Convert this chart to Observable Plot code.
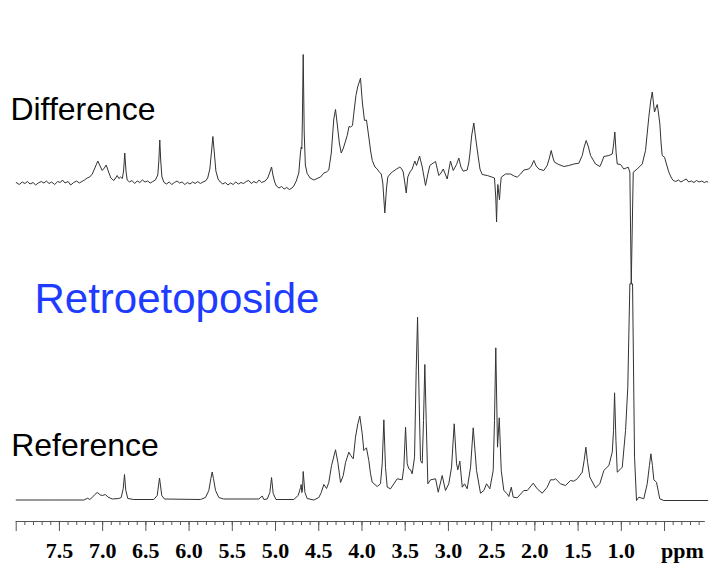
<!DOCTYPE html>
<html>
<head>
<meta charset="utf-8">
<script src="https://cdn.jsdelivr.net/npm/d3@7"></script>
<script src="https://cdn.jsdelivr.net/npm/@observablehq/plot@0.6"></script>
<style>
  html, body { margin: 0; padding: 0; background: #fff; }
  #chart svg { display: block; }
</style>
</head>
<body>
<div id="chart"></div>
<script>
// ---- Data ----
// Reference 1H NMR spectrum: [chemical shift (ppm), relative intensity]
const referenceSpectrum = [
  [8.000,0.5],[7.600,0.5],[7.218,0.5],[7.172,2.3],[7.150,1.0],[7.121,3.0],[7.090,6],[7.063,8],[7.025,5.5],[7.005,5],
  [6.967,6],[6.940,3.5],[6.889,1.5],[6.813,2],[6.785,3],[6.762,12],[6.747,26],[6.732,10],[6.709,2],[6.640,1],
  [6.408,1],[6.369,5],[6.342,22.5],[6.316,5],[6.285,1.5],[5.868,1],[5.810,3],[5.772,10],[5.748,22],[5.733,28.5],
  [5.718,22],[5.694,10],[5.656,3],[5.600,1.5],[5.193,1.5],[5.154,4.5],[5.135,1],[5.096,1.5],[5.066,8],[5.046,23],
  [5.027,7],[4.995,1],[4.789,1],[4.738,5],[4.711,13],[4.703,16],[4.696,8],[4.688,10],[4.680,29],[4.660,8],
  [4.634,2],[4.557,0.5],[4.499,3],[4.471,8],[4.441,16],[4.410,12],[4.384,18],[4.352,35],[4.306,50.7],[4.279,38],
  [4.248,18],[4.217,25],[4.190,38],[4.152,48.3],[4.130,45],[4.101,41.7],[4.075,63.3],[4.048,76.7],[4.025,84.3],[3.997,66.7],
  [3.979,50],[3.948,52.7],[3.921,40],[3.901,26.7],[3.882,18.3],[3.824,14],[3.786,16.7],[3.766,36.7],[3.747,80.7],[3.728,33],
  [3.708,13.3],[3.670,11.7],[3.592,21.7],[3.535,20.7],[3.516,33],[3.496,73.3],[3.477,36.7],[3.458,31.7],[3.438,30.7],[3.419,26.7],
  [3.392,43.3],[3.373,130],[3.357,183.3],[3.338,96.7],[3.323,40],[3.303,37.3],[3.288,80],[3.273,136],[3.257,80],[3.238,16.7],
  [3.207,20.7],[3.149,21.7],[3.118,8.3],[3.072,25],[3.034,10],[2.996,16.7],[2.964,33.3],[2.933,76.7],[2.906,36.7],[2.891,30.7],
  [2.868,39.3],[2.840,13.3],[2.814,16.7],[2.783,11.7],[2.744,33.3],[2.713,72.7],[2.675,30],[2.629,7.3],[2.590,10],[2.559,16.7],
  [2.521,11.7],[2.482,30],[2.467,80],[2.452,152.7],[2.432,53.3],[2.412,82.7],[2.389,30],[2.359,10],[2.320,6.7],[2.301,4],
  [2.273,13.3],[2.250,3.3],[2.204,2.7],[2.128,10],[2.088,10],[2.019,17.3],[1.973,11.7],[1.915,7.3],[1.857,13.3],[1.819,20.7],
  [1.781,20.7],[1.761,21.7],[1.703,16.7],[1.645,15],[1.588,20],[1.549,19.3],[1.510,21.7],[1.452,28.3],[1.430,40],[1.410,53.3],
  [1.390,38],[1.364,23.3],[1.298,12.7],[1.249,16.7],[1.202,30],[1.144,35],[1.105,48.3],[1.090,70],[1.078,107.7],[1.062,60],
  [1.047,28.3],[1.017,30.7],[0.989,33.3],[0.951,70],[0.925,113.3],[0.901,216.7],[0.870,216.7],[0.847,43.3],[0.824,0],[0.797,3.3],
  [0.740,1.7],[0.700,16.7],[0.675,35],[0.658,46.7],[0.640,35],[0.624,20.7],[0.593,18.3],[0.555,1.7],[0.508,0],[0.000,0]
];

// Difference spectrum: [chemical shift (ppm), relative intensity]
const differenceSpectrum = [
  [8.000,0.5],[7.965,-1.5],[7.930,1.0],[7.900,-0.5],[7.870,1.5],[7.840,-1.0],[7.805,0.5],[7.775,-2.0],[7.745,0.0],[7.710,1.5],
  [7.680,0.0],[7.650,2.0],[7.620,-0.5],[7.590,1.0],[7.555,-1.5],[7.520,1.5],[7.490,0.5],[7.465,3.0],[7.435,0.0],[7.400,1.5],
  [7.370,-2.0],[7.335,0.5],[7.300,2.0],[7.270,0.0],[7.240,1.5],[7.210,3.0],[7.180,5.0],[7.150,6.0],[7.120,9.0],[7.090,15.0],
  [7.056,22.0],[7.030,17.0],[7.005,12.5],[6.980,15.0],[6.959,18.0],[6.935,12.0],[6.905,5.0],[6.871,2.5],[6.850,5.0],[6.832,7.5],
  [6.812,4.5],[6.793,6.0],[6.772,4.5],[6.758,12],[6.744,30],[6.730,12],[6.716,3],[6.690,1.0],[6.660,2.5],[6.630,-0.5],
  [6.600,2.0],[6.570,0.5],[6.540,3.0],[6.510,1.0],[6.480,2.0],[6.450,0.0],[6.420,1.5],[6.390,3.0],[6.362,8],[6.350,22],
  [6.339,43],[6.328,22],[6.314,6],[6.290,0.5],[6.260,-1.0],[6.230,1.0],[6.200,-1.5],[6.170,0.5],[6.140,2.0],[6.110,0.0],
  [6.080,1.0],[6.050,-1.5],[6.020,0.5],[5.990,-1.0],[5.960,1.0],[5.930,-0.5],[5.900,1.5],[5.870,-0.5],[5.840,1.0],[5.810,2.0],
  [5.785,5],[5.760,14],[5.740,32],[5.725,46.5],[5.710,32],[5.690,12],[5.665,4],[5.640,1.0],[5.610,-1.0],[5.580,0.5],
  [5.550,-2.0],[5.520,0.0],[5.490,-1.5],[5.460,1.0],[5.430,-1.0],[5.400,0.5],[5.370,-0.5],[5.340,1.5],[5.310,2.5],[5.280,-0.5],
  [5.250,1.5],[5.220,0.0],[5.190,3.0],[5.160,0.5],[5.120,2],[5.090,5],[5.065,11],[5.046,16],[5.030,8],[5.010,1],
  [4.990,-3],[4.960,-5],[4.930,-3.5],[4.900,-6],[4.870,-4.5],[4.840,-6.5],[4.810,-5],[4.789,-3],[4.760,2],[4.731,10],
  [4.712,30],[4.703,36],[4.696,34],[4.690,60],[4.680,128.5],[4.668,50],[4.655,18],[4.634,9.5],[4.600,5],[4.557,3],
  [4.520,4.5],[4.480,6],[4.441,10],[4.410,11],[4.384,13],[4.355,30],[4.326,64],[4.306,73.5],[4.285,58],[4.262,40],
  [4.240,30],[4.215,35],[4.190,42],[4.171,47.5],[4.150,56.5],[4.132,56],[4.110,57.5],[4.090,73],[4.070,87.5],[4.050,96],
  [4.017,104.8],[3.995,80],[3.971,62.5],[3.948,63],[3.921,46],[3.900,32],[3.881,22.5],[3.850,16],[3.824,14],[3.800,11],
  [3.777,9],[3.759,0],[3.736,-30],[3.716,-5],[3.701,6],[3.675,9],[3.650,11],[3.600,14],[3.562,16],[3.540,14],
  [3.523,11],[3.504,0],[3.488,-10],[3.470,6],[3.445,11],[3.419,14],[3.389,22],[3.369,17.5],[3.334,27],[3.303,16],
  [3.265,-2.5],[3.240,8],[3.215,17.5],[3.176,20],[3.149,21.5],[3.111,7.5],[3.085,10],[3.060,14],[3.014,4],[2.976,22],
  [2.944,12.5],[2.906,18.5],[2.880,25],[2.855,16],[2.829,11.8],[2.783,13],[2.765,20],[2.752,29],[2.730,48],[2.706,60],
  [2.685,45],[2.660,29],[2.635,14],[2.609,8.5],[2.551,7.5],[2.493,5.8],[2.467,5],[2.452,-15],[2.443,-39],[2.436,-15],
  [2.428,-1.5],[2.418,-10],[2.409,-16.8],[2.400,-4],[2.389,5.8],[2.339,9],[2.282,9],[2.240,7],[2.204,5.8],[2.165,9],
  [2.128,13],[2.070,14],[2.040,17],[2.012,22.5],[1.985,17],[1.954,14],[1.897,12.5],[1.858,17.5],[1.835,24],[1.811,32.5],
  [1.790,25],[1.773,20.8],[1.723,18.5],[1.665,16.5],[1.607,17.5],[1.549,19],[1.491,19.8],[1.452,27.5],[1.430,36],[1.406,42.5],
  [1.380,36],[1.356,27.5],[1.298,19],[1.248,16.5],[1.225,21],[1.202,26.5],[1.144,27.5],[1.105,29],[1.090,38],[1.075,51],
  [1.060,30],[1.047,19],[1.009,18.5],[0.971,14],[0.920,15.8],[0.901,10.8],[0.885,-101],[0.862,10.8],[0.816,14],[0.758,19],
  [0.720,32.5],[0.682,65.8],[0.660,82],[0.642,91],[0.628,80],[0.616,71],[0.600,75],[0.584,78.5],[0.570,70],[0.554,59],
  [0.540,40],[0.527,27.5],[0.500,25.8],[0.475,18],[0.450,10.8],[0.420,5],[0.399,2.5],[0.370,1.5],[0.340,3.0],[0.310,1.0],
  [0.280,2.5],[0.250,4.0],[0.220,1.0],[0.190,2.0],[0.160,0.5],[0.130,2.5],[0.100,1.0],[0.070,2.0],[0.040,0.5],[0.010,1.5],
  [0.000,1.0]
];

// Axis ticks and labels
const majorTicks = [8.0, 7.5, 7.0, 6.5, 6.0, 5.5, 5.0, 4.5, 4.0, 3.5, 3.0, 2.5, 2.0, 1.5, 1.0, 0.5];
const tickLabels = ["", "7.5", "7.0", "6.5", "6.0", "5.5", "5.0", "4.5", "4.0", "3.5", "3.0", "2.5", "2.0", "1.5", "1.0", ""];
const minorTicks = d3.range(1, 80).map(i => i / 10);
const axisUnit = ["ppm"];

// Trace titles
const differenceTitle = ["Difference"];
const referenceTitle = ["Reference"];
const compoundTitle = ["Retroetoposide"];

// ---- Layout ----
const differenceOffset = 317.5; // vertical stacking of the difference trace
const labelOf = new Map(majorTicks.map((t, i) => [t.toFixed(1), tickLabels[i]]));
const sans = "'Liberation Sans', Arial, Helvetica, sans-serif";
const serif = "'Liberation Serif', 'Times New Roman', serif";

const chart = Plot.plot({
  width: 710,
  height: 563,
  marginLeft: 15.7,
  marginRight: 6.2,
  marginTop: 0,
  marginBottom: 42,
  style: {background: "#fff", overflow: "visible"},
  x: {domain: [8.0, 0.04], axis: null},
  y: {domain: [-21, 500], axis: null},
  marks: [
    Plot.frame({anchor: "bottom", stroke: "#555"}),
    Plot.axisX(minorTicks, {anchor: "bottom", tickSize: 4, tickFormat: () => "", stroke: "#555", label: null}),
    Plot.axisX(majorTicks, {
      anchor: "bottom", tickSize: 10, tickPadding: 10.5, stroke: "#555",
      tickFormat: d => labelOf.get(d.toFixed(1)) ?? "",
      fontFamily: serif, fontSize: 22, fontWeight: "bold", fill: "#000", label: null
    }),
    Plot.line(referenceSpectrum, {x: d => d[0], y: d => d[1], stroke: "#333", strokeWidth: 1}),
    Plot.line(differenceSpectrum, {x: d => d[0], y: d => d[1] + differenceOffset, stroke: "#333", strokeWidth: 1}),
    Plot.text(differenceTitle, {frameAnchor: "top-left", dx: -5.8, dy: 119.5, textAnchor: "start", lineAnchor: "bottom",
      fontFamily: sans, fontSize: 32, fill: "#000"}),
    Plot.text(compoundTitle, {frameAnchor: "top-left", dx: 18.3, dy: 312, textAnchor: "start", lineAnchor: "bottom",
      fontFamily: sans, fontSize: 42, fill: "#1e3cff"}),
    Plot.text(referenceTitle, {frameAnchor: "top-left", dx: -5, dy: 455, textAnchor: "start", lineAnchor: "bottom",
      fontFamily: sans, fontSize: 32, fill: "#000"}),
    Plot.text(axisUnit, {frameAnchor: "bottom-right", dx: -0.5, dy: 36, textAnchor: "end", lineAnchor: "bottom",
      fontFamily: serif, fontSize: 22, fontWeight: "bold", fill: "#000"})
  ]
});

document.getElementById("chart").appendChild(chart);
</script>
</body>
</html>
